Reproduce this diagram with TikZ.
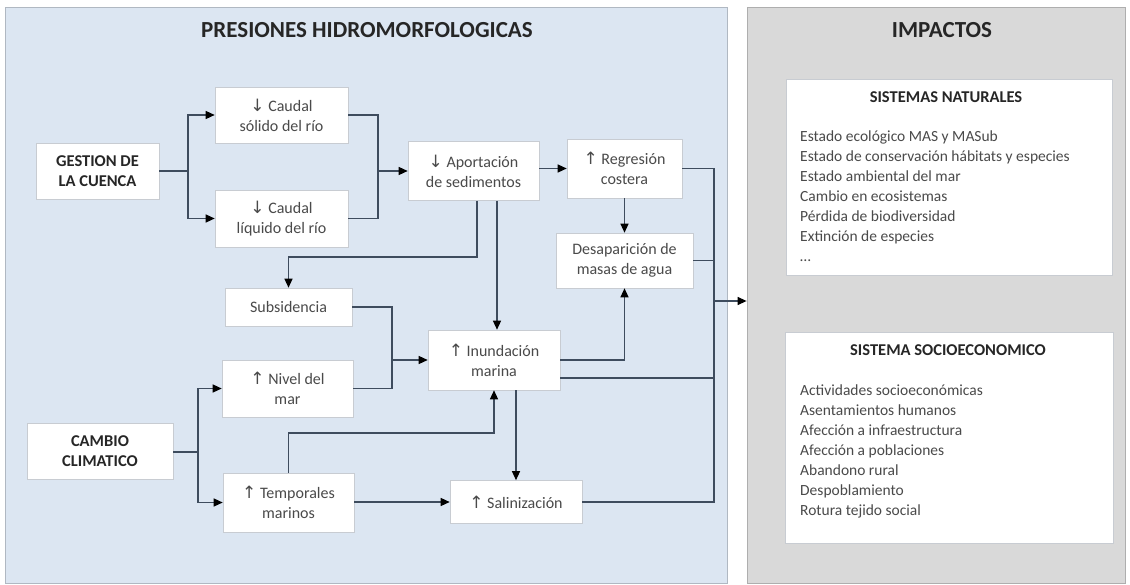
\documentclass[tikz,border=0pt]{standalone}
\usepackage{fontspec}
\setmainfont{Carlito}
\newfontfamily\arrfont{DejaVu Sans}
\usetikzlibrary{arrows.meta}
\newcommand{\dnA}{{\arrfont\fontsize{17}{20}\selectfont ↓}}
\newcommand{\upA}{{\arrfont\fontsize{17}{20}\selectfont ↑}}
\definecolor{panelblue}{HTML}{DCE6F2}
\definecolor{panelgrey}{HTML}{D9D9D9}
\definecolor{boxline}{HTML}{C8CCD2}
\definecolor{conn}{HTML}{3E4C5E}
\definecolor{txt}{HTML}{4A4A4A}
\definecolor{ttl}{HTML}{262626}
\begin{document}
\begin{tikzpicture}[x=1pt,y=-1pt,
  panel/.style={draw=#1!80!black, line width=0.8pt, fill=#1, inner sep=0pt},
  stepbox/.style={draw=boxline, line width=0.6pt, fill=white, align=center, text=txt,
    font=\fontsize{16}{20}\selectfont, inner sep=0pt},
  keybox/.style={stepbox, text=ttl, font=\bfseries\fontsize{16.5}{20}\selectfont},
  flow/.style={draw=conn, line width=1.3pt},
  arr/.style={flow, -{Triangle[length=9pt,width=8pt,fill=black,color=black]}},
  ptitle/.style={text=ttl, font=\bfseries\fontsize{23}{26}\selectfont, inner sep=0pt},
  btitle/.style={text=ttl, font=\bfseries\fontsize{16.5}{18}\selectfont, inner sep=0pt},
  item/.style={text=txt, font=\fontsize{15.5}{20}\selectfont, anchor=base west, inner sep=0pt}
]
\useasboundingbox[fill=white] (0,0) rectangle (1130,585);
% panels
\node[panel=panelblue, minimum width=722pt, minimum height=576pt] (pres) at (366,295) {};
\node[panel=panelgrey, minimum width=378pt, minimum height=576pt] (imp) at (936,295) {};
\node[ptitle] (tpres) at (367,30) {PRESIONES HIDROMORFOLOGICAS};
\node[ptitle] (timp) at (942,30) {IMPACTOS};

% left boxes
\node[keybox, minimum width=123pt, minimum height=56pt] (ges) at (97.5,171) {GESTION DE\\LA CUENCA};
\node[stepbox, minimum width=133pt, minimum height=56pt] (cs) at (281.5,115) {\dnA{} Caudal\\sólido del río};
\node[stepbox, minimum width=133pt, minimum height=57pt] (cl) at (281.5,218.5) {\dnA{} Caudal\\líquido del río};
\node[stepbox, minimum width=131pt, minimum height=59pt] (apo) at (473.5,171) {\dnA{} Aportación\\de sedimentos};
\node[stepbox, minimum width=115pt, minimum height=59pt] (reg) at (624.5,168.5) {\upA{} Regresión\\costera};
\node[stepbox, minimum width=137pt, minimum height=55pt] (des) at (624.5,260.5) {Desaparición de\\masas de agua};
\node[stepbox, minimum width=127pt, minimum height=38pt] (sub) at (288.5,307) {Subsidencia};
\node[stepbox, minimum width=131pt, minimum height=57pt] (niv) at (287.5,388.5) {\upA{} Nivel del\\mar};
\node[keybox, minimum width=146pt, minimum height=56pt] (cam) at (100,451) {CAMBIO\\CLIMATICO};
\node[stepbox, minimum width=131pt, minimum height=59pt] (tem) at (288.5,502.5) {\upA{} Temporales\\marinos};
\node[stepbox, minimum width=132pt, minimum height=60pt] (inu) at (494,360) {\upA{} Inundación\\marina};
\node[stepbox, minimum width=132pt, minimum height=43pt] (sal) at (516,502) {\upA{} Salinización};

% junction coordinates
\coordinate (jg) at (188,171);
\coordinate (jc) at (378,171);
\coordinate (ka) at (477,257);
\coordinate (kb) at (497,0);
\coordinate (js) at (392,360);
\coordinate (jk) at (198,452);
\coordinate (kt) at (288.5,433);
\coordinate (col) at (714,503);
\coordinate (co) at (714,301);

% connectors
\draw[flow] (ges.east) -- (jg);
\draw[arr] (jg) |- (cs.west);
\draw[arr] (jg) |- (cl.west);
\draw[flow] (cs.east) -| (jc);
\draw[flow] (cl.east) -| (jc);
\draw[arr] (jc) -- (apo.west |- jc);
\draw[arr] (apo.east |- reg.west) -- (reg.west);
\draw[arr] (reg.south) -- (des.north);
\draw[arr] (apo.south -| ka) -- (ka) -| (sub.north);
\draw[arr] (apo.south -| kb) -- (inu.north -| kb);
\draw[flow] (sub.east) -| (js);
\draw[flow] (niv.east) -| (js);
\draw[arr] (js) -- (inu.west);
\draw[flow] (cam.east |- jk) -- (jk);
\draw[arr] (jk) |- (niv.west);
\draw[arr] (jk) |- (tem.west);
\draw[arr] (tem.north) -- (kt) -| (inu.south);
\draw[arr] (tem.east |- sal.west) -- (sal.west);
\draw[arr] (inu.south -| sal.north) -- (sal.north);
\draw[arr] (inu.east) -| (des.south);
\draw[flow] (reg.east) -| (col);
\draw[flow] (des.east) -- (des.east -| col);
\draw[flow] ([yshift=-18pt]inu.east) -- ([yshift=-18pt]inu.east -| col);
\draw[flow] (sal.east) -- (sal.east -| col);
\draw[arr] (co) -- (imp.west |- co);

% impacts boxes
\node[draw=boxline, fill=white, line width=0.6pt, minimum width=326pt, minimum height=196pt, inner sep=0pt] (nat) at (949,177) {};
\node[btitle] (tnat) at (946,97) {SISTEMAS NATURALES};
\foreach \t [count=\i] in {Estado ecológico MAS y MASub,
  Estado de conservación hábitats y especies,
  Estado ambiental del mar,
  Cambio en ecosistemas,
  Pérdida de biodiversidad,
  Extinción de especies,
  {…}}
  \node[item] (na\i) at (800,122+20*\i) {\t};

\node[draw=boxline, fill=white, line width=0.6pt, minimum width=328pt, minimum height=211pt, inner sep=0pt] (soc) at (949,437.5) {};
\node[btitle] (tsoc) at (948,350) {SISTEMA SOCIOECONOMICO};
\foreach \t [count=\i] in {Actividades socioeconómicas,
  Asentamientos humanos,
  Afección a infraestructura,
  Afección a poblaciones,
  Abandono rural,
  Despoblamiento,
  Rotura tejido social}
  \node[item] (so\i) at (800,375+20*\i) {\t};
\end{tikzpicture}
\end{document}
